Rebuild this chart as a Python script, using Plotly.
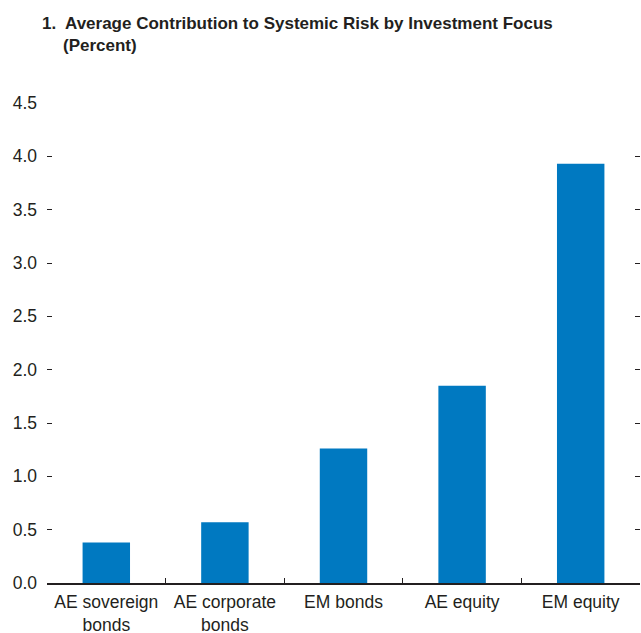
import plotly.graph_objects as go

# Average contribution to systemic risk, by investment focus (percent)
categories = ["AE sovereign<br>bonds", "AE corporate<br>bonds", "EM bonds", "AE equity", "EM equity"]
values = [0.38, 0.57, 1.26, 1.85, 3.93]
y_ticks = [0.0, 0.5, 1.0, 1.5, 2.0, 2.5, 3.0, 3.5, 4.0, 4.5]
y_tick_labels = [f"{v:.1f}" for v in y_ticks]

title_line1 = "1.  Average Contribution to Systemic Risk by Investment Focus"
title_line2 = "(Percent)"

BAR_COLOR = "#0079C1"
INK = "#231F20"
TITLE_FONT = "Liberation Sans, Arial, sans-serif"
BODY_FONT = "Liberation Sans, Arial, sans-serif"

fig = go.Figure()
fig.add_trace(go.Bar(
    x=categories,
    y=values,
    marker=dict(color=BAR_COLOR, line=dict(width=0)),
    width=0.4,
    hoverinfo="x+y",
))
# invisible trace to carry the right-hand tick marks
fig.add_trace(go.Scatter(x=[categories[0]], y=[0], yaxis="y2", mode="markers",
                         marker=dict(opacity=0), showlegend=False, hoverinfo="skip"))

axis_font = dict(family=BODY_FONT, size=17.5, color=INK)

fig.update_layout(
    width=641,
    height=633,
    margin=dict(l=47, r=1, t=103, b=50, autoexpand=False),
    plot_bgcolor="white",
    paper_bgcolor="white",
    showlegend=False,
    bargap=0.6,
    font=axis_font,
    xaxis=dict(
        automargin=False,
        showline=True,
        linecolor=INK,
        linewidth=1.5,
        ticks="inside",
        tickson="boundaries",
        ticklen=5,
        tickwidth=1,
        tickcolor=INK,
        tickfont=axis_font,
        ticklabelstandoff=2,
        showgrid=False,
        zeroline=False,
        fixedrange=True,
    ),
    yaxis=dict(
        automargin=False,
        range=[0, 4.5],
        tickvals=y_ticks,
        ticktext=y_tick_labels,
        ticks="inside",
        ticklen=5,
        tickwidth=1,
        tickcolor=INK,
        tickfont=axis_font,
        ticklabelstandoff=9,
        showline=False,
        showgrid=False,
        zeroline=False,
        fixedrange=True,
    ),
    yaxis2=dict(
        automargin=False,
        overlaying="y",
        side="right",
        range=[0, 4.5],
        tickvals=y_ticks,
        showticklabels=False,
        ticks="inside",
        ticklen=5,
        tickwidth=1,
        tickcolor=INK,
        showline=False,
        showgrid=False,
        zeroline=False,
        fixedrange=True,
    ),
    annotations=[
        dict(text=f"<b>{title_line1}</b>", xref="paper", yref="paper",
             x=-0.011, y=1.166, xanchor="left", yanchor="middle", showarrow=False,
             font=dict(family=TITLE_FONT, size=17, color=INK)),
        dict(text=f"<b>{title_line2}</b>", xref="paper", yref="paper",
             x=0.0235, y=1.119, xanchor="left", yanchor="middle", showarrow=False,
             font=dict(family=TITLE_FONT, size=17, color=INK)),
    ],
)

fig.write_html("out.html")
